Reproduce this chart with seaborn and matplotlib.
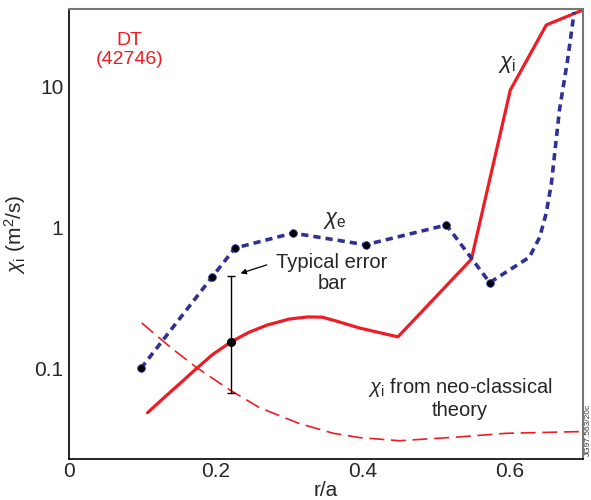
import numpy as np
import pandas as pd
import matplotlib
matplotlib.use("Agg")
import matplotlib.pyplot as plt
import matplotlib.ticker as mticker
import seaborn as sns

# chi_e (blue dotted) path and measured points
chie_r = [0.098, 0.195, 0.226, 0.305, 0.404, 0.514, 0.573, 0.627, 0.641, 0.650, 0.657, 0.668, 0.679, 0.688]
chie_v = [0.101, 0.45, 0.72, 0.92, 0.76, 1.05, 0.41, 0.62, 0.86, 1.28, 2.08, 6.9, 15.5, 34.0]
pts_r = [0.098, 0.195, 0.226, 0.305, 0.404, 0.514, 0.573]
pts_v = [0.101, 0.45, 0.72, 0.92, 0.76, 1.05, 0.41]

# chi_i (red solid)
chii_r = [0.107, 0.130, 0.150, 0.173, 0.195, 0.220, 0.245, 0.270, 0.300, 0.325, 0.345,
          0.365, 0.396, 0.448, 0.548, 0.601, 0.650, 0.699]
chii_v = [0.049, 0.063, 0.078, 0.100, 0.126, 0.155, 0.182, 0.205, 0.226, 0.234, 0.233,
          0.218, 0.195, 0.169, 0.60, 9.5, 27.5, 35.0]

# neo-classical chi_i (red dashed)
neo_r = [0.099, 0.140, 0.173, 0.219, 0.260, 0.314, 0.360, 0.396, 0.450, 0.532, 0.596, 0.698]
neo_v = [0.212, 0.140, 0.103, 0.071, 0.053, 0.041, 0.035, 0.0326, 0.031, 0.033, 0.035, 0.036]

# typical error bar
err_r = 0.220
err_v = 0.155
err_lo = 0.068
err_hi = 0.46

red = "#ee1c25"
navy = "#2e3192"

sns.set_style("white")
plt.rcParams["font.family"] = ["Liberation Sans", "DejaVu Sans"]
plt.rcParams["mathtext.fontset"] = "custom"
plt.rcParams["mathtext.rm"] = "Liberation Sans"
plt.rcParams["mathtext.it"] = "Liberation Sans:italic"

fig = plt.figure(figsize=(5.91, 5.0), dpi=100)
ax = fig.add_axes([69 / 591, 41 / 500, 514 / 591, 450 / 500])

sns.lineplot(x=neo_r, y=neo_v, ax=ax, color=red, lw=1.2, sort=False,
             linestyle=(0, (9, 4)))
sns.lineplot(x=chii_r, y=chii_v, ax=ax, color=red, lw=2.3, sort=False)
sns.lineplot(x=chie_r, y=chie_v, ax=ax, color=navy, lw=2.6, sort=False,
             linestyle=(0, (2.0, 1.4)))
sns.scatterplot(x=pts_r, y=pts_v, ax=ax, color="black", s=30, zorder=5,
                edgecolor=navy, linewidth=0.6)

ax.errorbar([err_r], [err_v], yerr=[[err_v - err_lo], [err_hi - err_v]],
            fmt="o", color="black", ms=5.5, elinewidth=1.0, capsize=3,
            capthick=1.0, ecolor="black", zorder=6)

ax.set_yscale("log")
ax.set_xlim(0, 0.7)
ax.set_ylim(0.023, 35.7)

ax.set_xticks(np.arange(0, 0.61, 0.1))
ax.set_xticklabels(["0", "", "0.2", "", "0.4", "", "0.6"])
ax.yaxis.set_major_locator(mticker.FixedLocator([0.1, 1, 10]))
ax.yaxis.set_major_formatter(mticker.FixedFormatter(["0.1", "1", "10"]))
ax.yaxis.set_minor_locator(mticker.LogLocator(base=10, subs=[2, 4, 6, 8], numticks=20))
ax.yaxis.set_minor_formatter(mticker.NullFormatter())

ax.tick_params(axis="both", which="major", direction="in", length=7, width=1,
               labelsize=15, color="#333333")
ax.tick_params(axis="x", which="major", pad=2)
ax.tick_params(axis="y", which="major", pad=4)
ax.tick_params(axis="y", which="minor", direction="in", length=5, width=1,
               color="#333333")
ax.tick_params(axis="x", which="minor", bottom=False)

for s in ["left", "bottom"]:
    ax.spines[s].set_color("black")
    ax.spines[s].set_linewidth(1.2)
for s in ["top", "right"]:
    ax.spines[s].set_color("#777777")
    ax.spines[s].set_linewidth(1.5)

ax.set_xlabel("r/a", fontsize=15, labelpad=0)
ax.set_ylabel(r"$\chi_\mathrm{i}$ (m$^2$/s)", fontsize=15)
ax.yaxis.set_label_coords(-0.08, 0.5)

ax.text(0.117, 0.909, "DT\n(42746)", transform=ax.transAxes, color=red,
        fontsize=14, ha="center", va="center", linespacing=1.1)
ax.text(0.852, 0.876, r"$\chi_\mathrm{i}$", transform=ax.transAxes,
        fontsize=16, ha="center", va="center")
ax.text(0.518, 0.531, r"$\chi_\mathrm{e}$", transform=ax.transAxes,
        fontsize=16, ha="center", va="center")
ax.text(0.512, 0.413, "Typical error\nbar", transform=ax.transAxes,
        fontsize=14.5, ha="center", va="center", linespacing=1.15)
ax.text(0.761, 0.135, r"$\chi_\mathrm{i}$ from neo-classical" + "\ntheory",
        transform=ax.transAxes, fontsize=14.5, ha="center", va="center",
        linespacing=1.15)
ax.annotate("", xy=(0.230, 0.47), xytext=(0.273, 0.555),
            arrowprops=dict(arrowstyle="-|>", color="black", lw=0.9,
                            mutation_scale=8))

fig.text(588 / 591, 1 - 430 / 500, "JG97.563/20c", rotation=90, fontsize=6,
         ha="center", va="center", color="#333333")

fig.savefig("out.png", dpi=100)
